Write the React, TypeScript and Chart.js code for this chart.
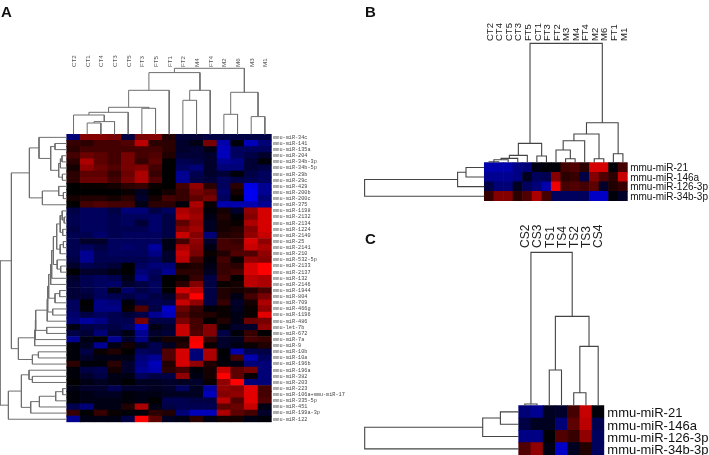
import React, { useEffect, useRef } from "react";
import { Chart, registerables } from "chart.js";

Chart.register(...registerables);

// ---------- Panel A ----------
const colLabelsA = ["CT2","CT1","CT4","CT3","CT5","FT3","FT5","FT1","FT2","M4","FT4","M2","M6","M3","M1"];
const rowLabelsA = ["34c","141","135a","204","34b-3p","34b-5p","29b","29c","429","200b","200c","375","1198","2132","2134","1224","2140","25","2141","210","532-5p","2133","2137","132","2146","1944","804","709","466g","1196","486","let-7b","672","7a","9","10b","10a","196b","196a","382","203","223","106a+mmu-miR-17","335-5p","451","199a-3p","122"]
  .map((s) => (s === "let-7b" ? "mmu-let-7b" : "mmu-miR-" + s));
const heatA = [
  [-.5,.55,.55,.5,-.3,.5,.55,.15,-.25,-.25,-.3,-.3,-.3,-.3,-.3],
  [.25,.2,.3,.3,.35,.75,.2,.2,-.2,-.1,.5,-.7,-.05,-.75,-.5],
  [.2,.3,.3,.3,.3,.3,.3,.2,-.2,-.25,-.1,-.75,-.4,-.4,-.4],
  [.3,.45,.4,.3,.5,.3,.35,.15,-.25,-.25,-.2,-.75,-.4,-.3,-.2],
  [.2,.7,.4,.3,.5,.25,.4,0,-.35,-.3,-.2,-.6,-.55,-.25,-.05],
  [.1,.6,.45,.35,.5,.55,.3,0,-.4,-.5,-.2,-.5,-.5,-.25,-.3],
  [.2,.4,.4,.25,.45,.7,.25,0,-.6,-.35,-.2,-.25,-.05,-.3,-.4],
  [.2,.45,.45,.3,.5,.7,.35,0,-.6,-.3,-.25,-.4,-.3,-.35,-.4],
  [0,.05,.05,.1,.2,.25,.05,0,.3,.6,.2,-.4,.2,-.9,-.6],
  [0,0,0,0,.05,-.15,0,.1,.25,.5,.4,-.45,.1,-.95,-.6],
  [.1,.15,.15,.1,.2,-.2,.1,.3,.25,.4,.5,-.4,0,-.95,-.5],
  [0,.3,.35,.3,.3,-.1,.2,.2,-.05,.7,.05,-.7,-.7,-.7,-.6],
  [-.3,-.4,-.4,-.3,-.5,-.5,-.3,-.4,.7,.6,-.05,.1,-.2,.6,.85],
  [-.35,-.4,-.4,-.35,-.4,-.4,-.45,-.3,.75,.65,-.1,.15,-.05,.55,.85],
  [-.35,-.4,-.4,-.35,-.4,-.25,-.45,-.3,.4,.6,-.15,.1,.05,.7,.85],
  [-.3,-.4,-.4,-.35,-.35,-.35,-.45,-.3,.55,.65,-.15,.1,.15,.55,.85],
  [-.35,-.35,-.45,-.35,-.4,-.4,-.4,-.3,.8,.55,-.5,.15,.2,.6,.8],
  [-.35,-.2,-.2,-.4,-.4,-.4,-.4,-.1,.3,.6,-.2,.3,.25,.85,.6],
  [-.35,-.4,-.3,-.4,-.45,-.4,-.65,-.1,.7,.55,-.1,.3,.3,.8,.7],
  [-.35,-.6,-.35,-.4,-.4,-.4,-.55,-.2,.8,.5,.05,.15,.35,.35,.6],
  [-.3,-.6,-.35,-.35,-.35,-.35,-.4,-.2,.75,.3,-.05,.3,.05,.6,.55],
  [-.2,-.35,-.3,-.25,0,-.4,-.5,-.5,.1,.15,-.1,.25,.2,.85,1],
  [0,-.2,-.2,-.1,0,-.5,-.4,-.6,.2,.2,-.15,.25,.3,.85,1],
  [-.2,-.35,-.4,-.35,-.1,-.6,-.35,0,.05,.25,-.3,.3,0,.75,.7],
  [-.25,-.35,-.4,-.45,-.2,-.3,-.4,0,.2,.55,-.3,.05,.1,.75,.7],
  [-.25,-.3,-.4,-.1,-.45,-.3,-.4,0,.85,.75,-.3,.15,.1,.15,.3],
  [-.25,-.25,-.4,-.35,-.3,-.4,-.3,-.2,.55,1,-.3,.15,-.1,.3,.5],
  [-.4,0,-.55,-.5,-.05,-.3,-.35,-.3,.8,.6,-.3,.25,-.2,.1,.7],
  [-.4,-.05,-.55,-.55,.05,.35,-.3,-.8,.45,.25,-.05,.05,-.15,.05,.6],
  [-.45,-.3,-.4,-.35,-.25,-.3,-.6,-.75,.35,.2,.15,.05,-.1,.05,.9],
  [-.5,-.65,-.55,-.35,-.35,.5,-.3,-.3,.5,.3,0,.15,-.1,.45,.5],
  [-.1,-.3,-.35,-.3,-.4,-.8,-.1,-.2,.8,.3,.55,-.05,-.2,-.2,.6],
  [-.3,-.25,-.5,-.25,-.1,-.6,-.2,-.25,.8,.35,.55,-.3,-.05,.25,0],
  [-.6,-.1,0,-.6,-.2,-.55,-.1,.1,.1,.95,.25,-.2,-.15,.3,.25],
  [-.05,-.15,-.6,-.1,.1,-.15,-.35,-.15,.15,1,.05,-.2,-.1,.05,.15],
  [-.05,-.3,.05,.15,0,-.4,-.35,.35,.85,-.5,.7,0,-.7,-.35,-.3],
  [-.05,-.2,-.1,-.1,-.1,-.5,-.6,.35,.85,-.5,.7,-.05,.3,-.7,-.4],
  [.2,-.05,-.05,.2,-.2,-.55,-.75,.15,.85,.6,.15,-.05,-.1,-.5,-.5],
  [-.05,-.3,-.35,.1,-.2,-.6,-.7,.2,.3,-.05,.1,.8,.4,.5,-.5],
  [-.05,-.2,-.3,-.1,-.1,-.4,-.3,-.3,.6,-.1,.1,1,.4,.05,-.5],
  [0,-.1,-.15,-.1,0,-.15,-.15,-.2,-.15,-.2,.05,.6,1,-.5,-.5],
  [-.1,-.2,-.2,-.35,-.2,-.2,-.15,-.2,-.4,-.15,-.65,.6,.55,.9,.3],
  [-.05,-.1,-.15,-.15,-.05,-.1,-.1,-.15,-.15,-.15,-.75,.55,.6,.9,.3],
  [-.05,-.1,-.1,-.1,-.05,-.1,0,-.35,-.35,-.3,-.3,.75,.35,.9,.35],
  [-.35,-.5,-.1,-.1,.15,.7,-.1,-.3,-.35,-.35,-.35,.4,.45,.8,-.1],
  [.25,0,.25,.05,-.05,-.05,.2,.15,-.5,-.75,-.75,.7,.4,.3,-.2],
  [-.6,-.1,-.1,-.1,-.3,1,.4,-.15,-.1,.2,-.1,.1,.1,-.1,-.05],
];
// Dendrograms: [merge distance, left, right]; a number is a leaf index.
const colTreeA = [66,
  [61.7,
    [44, [27, [22, [19.3, 0, [12.7, [11.3, 1, 2], 3]], 4], [26, 5, 6]], 7],
    [44, [34, 8, 9], 10]],
  [42, [20, 11, 12], [17.7, 13, 14]]];
const rowTreeTopA = [37.3,
  [27.7, 0, [16, [11.7, 1, 2], [8, [6.3, [4.7, 3, 4], 5], [4.3, 6, 7]]]],
  [24.3, [8, 8, [3.3, 9, 10]], 11]];
const rowTreeChainA = [10,
  [6.5, [4.5, 12, [2.5, 13, 14]], [4, 15, 16]],
  [6.5, [3.3, 17, 18], 19]];
const rowTreeMidA = [48.3,
  [32, [31.3, [31,
    [19.5, [19, [18, [16, [15, [13.3, rowTreeChainA, [9.5, 20, [6, 21, 22]]], 23], 24],
      [11.7, [7, 25, 26], 27]], [14, 28, 29]], 30],
    [20, 31, 32]], 33], 34],
  [34.3, [28.3, 35, 36], 37]];
const rowTreeLowA = [58.3,
  [45.3, [37.7, 38, [34.3, 39, 40]], [36, [27.3, [11, [4, 41, 42], 43], 44], 45]],
  46];
const rowTreeA = [66.7, [55.3, rowTreeTopA, rowTreeMidA], rowTreeLowA];

// ---------- Panel B ----------
const colLabelsB = ["CT2","CT4","CT5","CT3","FT5","CT1","FT3","FT2","M3","M4","FT4","M2","M6","FT1","M1"];
const rowLabelsB = ["mmu-miR-21","mmu-miR-146a","mmu-miR-126-3p","mmu-miR-34b-3p"];
const heatB = [
  [-.7,-.7,-.7,-.55,-.5,-.1,-.05,-.05,.3,.35,.2,.85,.85,-.05,.3],
  [-.6,-.6,-.6,-.55,-.15,-.4,-.35,.55,.2,.25,-.3,.55,.35,.2,.8],
  [-.3,-.5,-.5,-.15,-.4,-.5,-.7,.95,.3,.35,.3,.4,-.2,.15,.25],
  [.25,.55,.55,.2,.35,.7,.3,-.4,-.4,-.4,-.4,-.8,-.8,-.05,-.2],
];
const colTreeB = [119.3,
  [19.3, [7.3, [4.3, [3, [1, 0, 1], 2], 3], 4], [6.7, 5, 6]],
  [40, [28.7, [22, [12.7, 7, [4, 8, 9]], 10], [4, 11, 12]], [9, 13, 14]]];
const rowTreeB = [119.7, [26.7, [18.3, 0, 1], 2], 3];

// ---------- Panel C ----------
const colLabelsC = ["CS2","CS3","TS1","TS4","TS2","TS3","CS4"];
const rowLabelsC = ["mmu-miR-21","mmu-miR-146a","mmu-miR-126-3p","mmu-miR-34b-3p"];
const heatC = [
  [-.5,-.6,-.15,-.2,.3,.8,-.05],
  [-.3,-.15,-.15,-.5,.4,.75,-.35],
  [-.55,-.55,-.03,.35,.25,.6,-.4],
  [.35,.6,-.1,-.8,-.15,.15,-.4],
];
const colTreeC = [153.3, [1.7, 0, 1], [89.3, [35.7, 2, 3], [59.3, [13, 4, 5], 6]]];
const rowTreeC = [154, [36, [18.3, 0, 1], 2], 3];

type Tree = any;

function cellColour(v: number) {
  const c = Math.round(Math.pow(Math.min(1, Math.abs(v)), 1.1) * 255);
  return v >= 0 ? `rgb(${c},0,0)` : `rgb(0,0,${c})`;
}

function treeSegments(tree: Tree) {
  const out: { pos: number; dist: number }[] = [];
  const walk = (n: Tree): { pos: number; dist: number } => {
    if (typeof n === "number") return { pos: n + 0.5, dist: 0 };
    const a = walk(n[1]);
    const b = walk(n[2]);
    out.push(a, { pos: a.pos, dist: n[0] }, { pos: b.pos, dist: n[0] }, b, { pos: NaN, dist: NaN });
    return { pos: (a.pos + b.pos) / 2, dist: n[0] };
  };
  walk(tree);
  return out;
}

type Panel = {
  cols: string[]; rows: string[]; heat: number[][]; colTree: Tree; rowTree: Tree;
  left: number; right: number; top: number; bottom: number;
  areaLeft: number; areaTop: number;
  treeColor: string; treeWidth: number;
  colFont: any; colColor: string; colPad: number; colShift: number;
  rowFont: any; rowColor: string; rowPad: number; rowShift: number;
};

const W = 709, H = 455;

const panels: Panel[] = [
  { cols: colLabelsA, rows: rowLabelsA, heat: heatA, colTree: colTreeA, rowTree: rowTreeA,
    left: 66.7, right: 271.7, top: 134.3, bottom: 422.3, areaLeft: 0, areaTop: 68,
    treeColor: "#6f6f6f", treeWidth: 1,
    colFont: { family: "Liberation Sans", size: 6.2 }, colColor: "#555", colPad: 1, colShift: 8.2,
    rowFont: { family: "Liberation Mono", size: 5.2 }, rowColor: "#444", rowPad: 1.5, rowShift: 0 },
  { cols: colLabelsB, rows: rowLabelsB, heat: heatB, colTree: colTreeB, rowTree: rowTreeB,
    left: 484.3, right: 627.7, top: 162.7, bottom: 201, areaLeft: 364, areaTop: 43,
    treeColor: "#444", treeWidth: 1.1,
    colFont: { family: "Liberation Sans", size: 9.5 }, colColor: "#222", colPad: 2, colShift: 12.4,
    rowFont: { family: "Liberation Sans", size: 10 }, rowColor: "#111", rowPad: 2.5, rowShift: 0.8 },
  { cols: colLabelsC, rows: rowLabelsC, heat: heatC, colTree: colTreeC, rowTree: rowTreeC,
    left: 518.7, right: 604.3, top: 405.7, bottom: 455, areaLeft: 364, areaTop: 252,
    treeColor: "#444", treeWidth: 1.1,
    colFont: { family: "Liberation Sans", size: 12 }, colColor: "#222", colPad: 4, colShift: 15.4,
    rowFont: { family: "Liberation Sans", size: 13 }, rowColor: "#111", rowPad: 3, rowShift: 2 },
];

const clearPadding = (s: any) => {
  s.paddingLeft = 0; s.paddingRight = 0; s.paddingTop = 0; s.paddingBottom = 0;
};

function makeChart(canvas: HTMLCanvasElement, p: Panel) {
  const nC = p.cols.length, nR = p.rows.length;
  const colW = (p.right - p.left) / nC;
  const rowH = (p.bottom - p.top) / nR;
  const cells: { x: number; y: number[] }[] = [];
  const colours: string[] = [];
  p.heat.forEach((row, r) =>
    row.forEach((v, c) => {
      cells.push({ x: c + 0.5, y: [r, r + 1] });
      colours.push(cellColour(v));
    })
  );
  const line = (data: any[]) => ({
    type: "scatter" as const, data, showLine: true, spanGaps: false, clip: false as any,
    borderColor: p.treeColor, borderWidth: p.treeWidth, pointRadius: 0, borderJoinStyle: "miter" as const,
  });
  const colPts = treeSegments(p.colTree).map((s) => ({ x: s.pos, y: -s.dist / rowH }));
  const rowPts = treeSegments(p.rowTree).map((s) => ({ x: -s.dist / colW, y: s.pos }));
  return new Chart(canvas, {
    type: "bar",
    data: {
      datasets: [
        { data: cells as any, backgroundColor: colours, borderWidth: 0, grouped: false,
          barPercentage: 1, categoryPercentage: 1, order: 2 } as any,
        { ...line(colPts), order: 1 } as any,
        { ...line(rowPts), order: 1 } as any,
      ],
    },
    options: {
      animation: false,
      responsive: false,
      events: [],
      layout: { padding: { left: p.areaLeft, top: 0, right: 0, bottom: H - p.bottom } },
      plugins: { legend: { display: false }, tooltip: { enabled: false }, title: { display: false } },
      scales: {
        x: {
          type: "linear", position: "top", offset: false,
          min: -(p.left - p.areaLeft) / colW, max: nC,
          grid: { display: false, drawTicks: false, offset: false }, border: { display: false },
          afterBuildTicks: (s: any) => { s.ticks = p.cols.map((_, i) => ({ value: i + 0.5 })); },
          afterFit: (s: any) => { s.height = p.areaTop; clearPadding(s); },
          ticks: {
            autoSkip: false, minRotation: 90, maxRotation: 90, padding: p.colPad, labelOffset: p.colShift,
            color: p.colColor, font: p.colFont,
            callback: (v: any) => p.cols[Math.floor(Number(v))],
          },
        },
        y: {
          type: "linear", position: "right", reverse: true,
          min: -(p.top - p.areaTop) / rowH, max: nR,
          grid: { display: false, drawTicks: false }, border: { display: false },
          afterBuildTicks: (s: any) => { s.ticks = p.rows.map((_, i) => ({ value: i + 0.5 })); },
          afterFit: (s: any) => { s.width = W - p.right; clearPadding(s); },
          ticks: {
            autoSkip: false, padding: p.rowPad, labelOffset: p.rowShift, color: p.rowColor, font: p.rowFont,
            callback: (v: any) => p.rows[Math.floor(Number(v))],
          },
        },
      },
    } as any,
  });
}

function PanelChart({ panel }: { panel: Panel }) {
  const ref = useRef<HTMLCanvasElement>(null);
  useEffect(() => {
    const chart = makeChart(ref.current!, panel);
    return () => chart.destroy();
  }, [panel]);
  return (
    <canvas
      ref={ref}
      width={W}
      height={H}
      style={{ position: "absolute", left: 0, top: 0, width: W, height: H, filter: "blur(0.5px)" }}
    />
  );
}

const letterStyle = (x: number, y: number): React.CSSProperties => ({
  position: "absolute", left: x, top: y, font: "bold 15px 'Liberation Sans'", color: "#111", lineHeight: "15px",
});

export default function App() {
  return (
    <div style={{ position: "fixed", left: 0, top: 0, width: W, height: H, background: "#fff", overflow: "hidden" }}>
      {panels.map((p, i) => <PanelChart key={i} panel={p} />)}
      <div style={letterStyle(1, 4)}>A</div>
      <div style={letterStyle(365, 4)}>B</div>
      <div style={letterStyle(365, 231)}>C</div>
    </div>
  );
}
